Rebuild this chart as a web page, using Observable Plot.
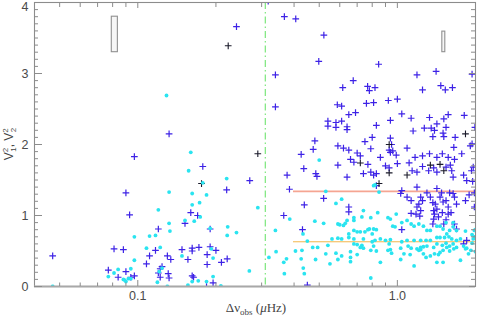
<!DOCTYPE html>
<html><head><meta charset="utf-8">
<script src="https://cdn.jsdelivr.net/npm/d3@7"></script>
<script src="https://cdn.jsdelivr.net/npm/@observablehq/plot@0.6"></script>
<style>body{margin:0;background:#fff}svg{display:block}</style>
</head><body><div id="chart"></div>
<script>
// ---- data ----
const bluePlus = [
[0.047,0.43],[0.090,1.32],[0.093,1.01],[0.120,0.81],[0.081,0.53],[0.088,0.52],[0.117,0.51],[0.111,0.43],[0.108,0.32],
[0.077,0.23],[0.084,0.13],[0.090,0.21],[0.097,0.15],[0.094,0.13],[0.120,0.19],[0.122,0.13],[0.122,0.25],[0.097,1.83],
[0.132,2.15],[0.240,3.66],[0.318,4.02],[0.178,1.69],[0.270,1.49],[0.220,1.36],[0.160,1.04],[0.170,1.00],[0.152,0.89],
[0.190,0.81],[0.148,0.52],[0.162,0.54],[0.162,0.50],[0.172,0.55],[0.190,0.56],[0.200,0.51],[0.185,0.45],[0.130,0.43],
[0.134,0.38],[0.156,0.38],[0.221,0.39],[0.210,0.34],[0.185,0.31],[0.131,0.18],[0.124,0.28],[0.132,0.12],[0.162,0.15],
[0.164,0.13],[0.195,0.05],[0.184,0.00],
[0.367,3.80],[0.406,3.77],[0.498,3.17],[0.339,2.98],[0.339,2.53],[0.481,2.05],[0.474,1.93],[0.426,1.86],[0.521,3.54],
[0.847,3.13],[0.676,2.90],[0.616,2.80],[0.768,2.82],[0.78,2.76],[0.82,2.80],[1.19,2.98],[1.41,3.03],[1.25,2.77],
[1.47,2.83],[1.53,2.77],[1.63,2.80],[1.94,2.99],[0.587,2.56],[0.61,2.54],[0.76,2.58],[0.81,2.59],[0.923,2.62],[1.0,2.64],
[0.54,2.33],[0.54,2.26],[0.58,2.31],[0.58,2.24],[0.61,2.33],[0.64,2.25],[0.64,2.21],[0.65,2.42],[0.69,2.45],[0.83,2.27],
[0.94,2.34],[1.04,2.43],[1.13,2.37],[1.15,2.19],[1.27,2.23],[1.35,2.23],[1.33,2.38],[1.39,2.20],[1.42,2.29],[1.51,2.36],
[1.57,2.42],[1.54,2.24],[1.37,2.11],[1.50,2.16],[1.51,2.11],[1.67,2.10],[1.81,2.41],[1.99,2.24],[0.80,2.10],[0.75,2.04],
[0.94,2.09],[0.59,1.98],[0.62,1.95],[0.65,1.92],[0.70,1.88],[0.72,1.84],[0.66,1.79],[0.79,1.94],[0.86,1.82],[0.95,2.00],
[0.93,1.92],[0.96,1.91],[0.94,1.89],[0.99,1.85],[1.09,1.95],[1.17,1.82],[1.25,1.84],[1.33,1.87],[1.42,1.82],[1.49,1.87],
[1.57,1.82],[1.65,1.96],[1.77,1.87],[1.91,1.98],[1.94,2.01],[1.66,1.79],
[0.436,1.66],[0.376,1.57],[0.485,1.59],[0.49,1.55],[0.384,1.37],[0.438,1.15],[0.365,1.00],[0.431,0.80],[0.45,0.02],
[0.59,1.71],[0.64,1.54],[0.68,1.75],[0.77,1.72],[0.74,1.59],[0.81,1.57],[0.79,1.61],[0.83,1.59],[0.93,1.67],[0.90,1.70],
[0.83,1.42],[1.0,1.73],[1.11,1.74],[1.19,1.61],[1.14,1.63],[1.25,1.69],[1.32,1.63],[1.38,1.67],[1.42,1.61],[1.54,1.68],
[1.60,1.71],[1.62,1.63],[1.64,1.54],[1.80,1.57],[1.85,1.49],[1.95,1.48],[1.96,1.68],[1.93,1.63],[1.03,1.31],[1.04,1.35],
[1.09,1.26],[1.13,1.21],[1.19,1.40],[1.21,1.16],[1.23,1.26],[1.25,1.21],[1.30,1.32],[1.34,1.26],[1.37,1.18],[1.40,1.16],
[1.42,1.38],[1.46,1.26],[1.48,1.32],[1.50,1.19],[1.54,1.21],[1.57,1.12],[1.59,1.32],[1.64,1.31],[1.66,1.26],[1.69,1.16],
[1.83,1.21],[1.89,1.29],[1.98,1.32],[1.98,1.12],[1.42,1.09],[1.39,1.02],[1.38,0.95],[1.37,0.88],[1.44,0.98],[1.49,1.04],
[1.54,0.94],[1.57,1.02],[1.61,1.04],[1.23,1.07],[1.19,1.12],[1.18,1.02],[1.13,1.03],[1.22,0.99],[1.38,1.07],[1.51,0.88],
[1.66,0.88],[1.69,0.81],[1.04,0.80],[0.65,1.12],[0.65,1.05],[0.52,1.24],[1.85,0.65],[1.80,0.60]
];
const blackPlus = [
[0.223,3.39],[0.290,1.87],[0.176,1.45],[0.93,1.60],[1.34,1.71],[1.09,1.57],[1.51,1.63],[0.72,1.74],[1.46,1.72],
[0.85,1.45],[1.83,2.15],[0.93,2.00]
];
const cyanDots = [
[0.047,0.00],[0.120,1.08],[0.097,0.70],[0.111,0.71],[0.117,0.72],[0.108,0.54],[0.122,0.55],[0.097,0.37],[0.077,0.14],
[0.081,0.19],[0.084,0.24],[0.094,0.25],[0.088,0.10],[0.090,0.07],[0.092,0.11],[0.089,0.09],[0.094,0.11],[0.121,0.21],
[0.119,0.06],[0.129,2.69],[0.160,1.89],[0.157,1.63],[0.220,1.52],[0.178,1.46],[0.132,1.33],[0.162,1.31],[0.184,1.29],
[0.173,1.18],[0.162,1.15],[0.290,1.11],[0.174,0.98],[0.132,0.89],[0.152,0.93],[0.165,0.92],[0.133,0.78],[0.190,0.82],
[0.222,0.84],[0.240,0.76],[0.221,0.72],[0.192,0.53],[0.148,0.43],[0.195,0.40],[0.269,0.22],[0.124,0.26],[0.195,0.14],
[0.162,0.07],[0.171,0.08],[0.184,0.07],[0.156,0.02],[0.209,0.01],[0.130,0.00],
[0.50,1.78],[0.385,0.95],[0.481,0.92],[0.339,0.79],[0.433,0.74],[0.45,0.64],[0.472,0.55],[0.493,0.55],[0.341,0.49],
[0.405,0.50],[0.429,0.51],[0.32,0.41],[0.374,0.39],[0.365,0.34],[0.426,0.39],[0.484,0.38],[0.434,0.26],[0.367,0.18],
[0.438,0.18],[0.53,1.34],[0.81,1.42],[0.82,1.43],[0.85,1.33],[0.58,1.17],[0.61,1.23],[0.52,0.89],[0.59,0.88],[0.60,0.87],
[0.62,0.86],[0.63,0.89],[0.64,0.93],[0.68,0.93],[0.68,0.97],[0.73,0.98],[0.74,1.07],[0.79,0.97],[0.84,1.04],[0.92,0.97],
[0.94,0.95],[0.99,1.02],[0.98,0.84],[0.96,0.85],[0.70,0.77],[0.72,0.77],[0.75,0.77],[0.77,0.80],[0.78,0.81],[0.81,0.81],
[0.83,0.80],[0.80,0.74],[0.65,0.74],[0.68,0.79],[0.56,0.67],[0.59,0.68],[0.61,0.67],[0.65,0.69],[0.68,0.67],[0.74,0.67],
[0.80,0.63],[0.82,0.65],[0.86,0.67],[0.90,0.65],[0.94,0.66],[1.04,0.63],[1.09,0.65],[1.16,0.65],[1.23,0.65],[1.29,0.65],
[1.34,0.65],[0.54,0.58],[0.68,0.60],[0.70,0.59],[0.73,0.58],[0.81,0.57],[0.93,0.60],[0.94,0.52],[1.03,0.54],[1.10,0.57],
[1.13,0.54],[1.19,0.53],[1.23,0.55],[1.26,0.56],[1.30,0.57],[1.38,0.55],[1.42,0.60],[1.49,0.58],[1.54,0.61],[1.59,0.57],
[1.64,0.60],[1.69,0.55],[1.80,0.57],[1.85,0.54],[1.94,0.61],[1.96,0.67],[1.98,0.70],[2.0,0.80],[1.83,0.78],[1.75,0.67],
[1.69,0.65],[1.62,0.67],[1.52,0.69],[1.46,0.69],[1.42,0.69],[1.55,0.74],[1.58,0.70],[0.53,0.46],[0.58,0.47],[0.59,0.38],
[0.61,0.43],[0.66,0.49],[0.66,0.41],[0.70,0.45],[0.72,0.55],[0.74,0.54],[0.79,0.51],[0.83,0.50],[0.86,0.34],[0.92,0.51],
[0.95,0.47],[1.03,0.38],[1.06,0.46],[1.12,0.45],[1.16,0.29],[1.21,0.51],[1.23,0.52],[1.26,0.46],[1.29,0.41],[1.34,0.43],
[1.39,0.46],[1.44,0.45],[1.46,0.48],[1.50,0.51],[1.42,0.34],[1.50,0.34],[1.55,0.55],[1.59,0.50],[1.65,0.53],[1.75,0.37],
[1.83,0.53],[1.88,0.46],[1.92,0.51],[2.0,0.49],[0.79,0.12],[0.55,0.32],[0.66,0.35],[1.09,0.93],[1.13,0.88],[1.16,0.85],
[1.21,0.88],[1.26,0.85],[1.30,0.79],[1.34,0.79],[1.42,0.85],[1.46,0.85],[1.50,0.81],[1.59,0.79],[1.64,0.84],[1.64,0.90],
[1.54,0.90],[1.94,0.73],[1.98,0.79],[1.69,0.79],[1.04,0.90]
];
const splitX = [0.31];                       // vertical dash-dot line
const levelLines = [
  {name:"upper", y:1.34, x1:0.398, x2:2.0},
  {name:"lower", y:0.63, x1:0.398, x2:2.0}
];
const errorBoxes = [
  {x1:0.0794, x2:0.0838, y1:3.30, y2:3.80},
  {x1:1.49,   x2:1.53,   y1:3.30, y2:3.59}
];
const xDomain = [0.04, 2.0];
const yDomain = [0, 4];
const xMajorTicks = [0.1, 1.0];
const xTickLabels = ["0.1", "1.0"];
const xMinorTicks = [0.05,0.06,0.07,0.08,0.09,0.2,0.3,0.4,0.5,0.6,0.7,0.8,0.9];
const yMajorTicks = [0, 1, 2, 3, 4];
const yTickLabels = ["0", "1", "2", "3", "4"];
const yMinorTicks = d3.range(1, 40).map(i => i / 10).filter(v => v % 1 !== 0);

const fx = d => d[0], fy = d => d[1];
const axisColor = "#8c8c8c";
const sans = "Liberation Sans, Arial, Helvetica, sans-serif";
const yLabelFmt = v => yTickLabels[yMajorTicks.indexOf(v)];

const chart = Plot.plot({
  width: 480, height: 319,
  marginLeft: 34, marginRight: 5, marginTop: 2, marginBottom: 33,
  style: {fontFamily: sans, background: "#fff"},
  x: {type: "log", domain: xDomain, axis: null},
  y: {domain: yDomain, axis: null},
  marks: [
    Plot.ruleX(splitX, {stroke: "#86e886", strokeWidth: 1.3, strokeDasharray: "7,3,1.5,3"}),
    Plot.ruleY(levelLines.filter(d => d.name === "upper"), {y: "y", x1: "x1", x2: "x2", stroke: "#f5a592", strokeWidth: 1.6}),
    Plot.ruleY(levelLines.filter(d => d.name === "lower"), {y: "y", x1: "x1", x2: "x2", stroke: "#f3b64a", strokeWidth: 1}),
    Plot.rect(errorBoxes, {x1: "x1", x2: "x2", y1: "y1", y2: "y2", stroke: "#909090", strokeWidth: 1.1, fill: "#f6f6f6"}),
    Plot.dot(bluePlus, {x: fx, y: fy, symbol: "plus", r: 2.3, stroke: "#3d22e6", strokeWidth: 1.2, clip: true}),
    Plot.dot(blackPlus, {x: fx, y: fy, symbol: "plus", r: 2.3, stroke: "#1a1a2a", strokeWidth: 1.1, clip: true}),
    Plot.dot(cyanDots, {x: fx, y: fy, r: 1.9, fill: "#2ae4f0", clip: true}),
    Plot.frame({stroke: axisColor, strokeWidth: 1.1}),
    Plot.ruleY([0], {stroke: "#a8a8a8", strokeWidth: 2}),
    // inside ticks: left
    Plot.axisY(yMinorTicks, {anchor: "left", tickSize: 4, dx: 4, fill: "none", stroke: axisColor, label: null}),
    Plot.axisY(yMajorTicks, {anchor: "left", tickSize: 8, dx: 8, fill: "none", stroke: axisColor, label: null}),
    // inside ticks: right
    Plot.axisY(yMinorTicks, {anchor: "right", tickSize: 5, dx: -5, fill: "none", stroke: axisColor, label: null}),
    Plot.axisY(yMajorTicks, {anchor: "right", tickSize: 7, dx: -7, fill: "none", stroke: axisColor, label: null}),
    // inside ticks: bottom / top
    Plot.axisX(xMinorTicks, {anchor: "bottom", tickSize: 3.5, dy: -3.5, fill: "none", stroke: axisColor, label: null}),
    Plot.axisX(xMajorTicks, {anchor: "bottom", tickSize: 6, dy: -6, fill: "none", stroke: axisColor, label: null}),
    Plot.axisX(xMinorTicks, {anchor: "top", tickSize: 4, dy: 4, fill: "none", stroke: axisColor, label: null}),
    Plot.axisX(xMajorTicks, {anchor: "top", tickSize: 5, dy: 5, fill: "none", stroke: axisColor, label: null}),
    // tick labels (top label nudged down so it stays inside the picture)
    Plot.axisY(yMajorTicks.slice(0, 4), {anchor: "left", tickSize: 0, tickPadding: 6, fill: "#4a4a4a", fontSize: 12.5,
      tickFormat: yLabelFmt, label: null}),
    Plot.axisY(yMajorTicks.slice(4), {anchor: "left", tickSize: 0, tickPadding: 6, fill: "#4a4a4a", fontSize: 12.5,
      dy: 4, tickFormat: yLabelFmt, label: null}),
    Plot.axisX(xMajorTicks, {anchor: "bottom", tickSize: 0, tickPadding: 5, fill: "#4a4a4a", fontSize: 12.5,
      tickFormat: v => xTickLabels[xMajorTicks.indexOf(v)], label: null})
  ]
});
document.getElementById("chart").appendChild(chart);

// axis titles with sub/superscripts
const svg = d3.select(chart);
const xt = svg.append("text")
  .attr("x", 256).attr("y", 312).attr("text-anchor", "middle")
  .attr("font-family", "Liberation Serif, Times New Roman, serif").attr("font-size", 13).attr("fill", "#444");
xt.append("tspan").text("Δν");
xt.append("tspan").attr("font-size", 9).attr("dy", 3).text("obs");
xt.append("tspan").attr("dy", -3).text(" (");
xt.append("tspan").attr("font-style", "italic").text("μ");
xt.append("tspan").text("Hz)");

const yt = svg.append("text")
  .attr("transform", "translate(13,144) rotate(-90)").attr("text-anchor", "middle")
  .attr("font-family", sans).attr("font-size", 12).attr("fill", "#444");
yt.append("tspan").text("V");
yt.append("tspan").attr("font-size", 8).attr("dy", -5).text("2");
yt.append("tspan").attr("font-size", 8).attr("dx", -4).attr("dy", 8).text("1");
yt.append("tspan").attr("dy", -3).text(", V");
yt.append("tspan").attr("font-size", 8).attr("dy", -5).text("2");
yt.append("tspan").attr("font-size", 8).attr("dx", -4).attr("dy", 8).text("2");
</script>
</body></html>
